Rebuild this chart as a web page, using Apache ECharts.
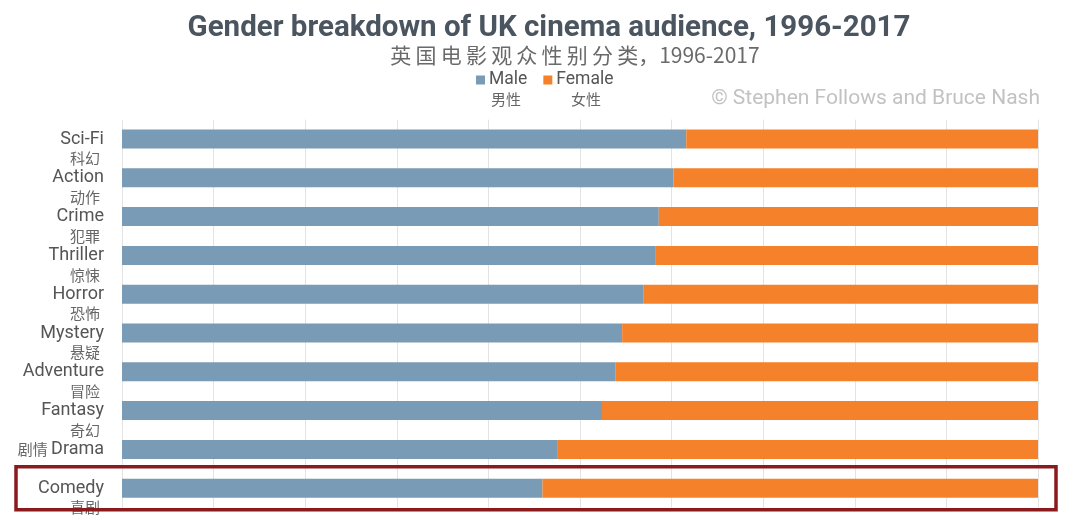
<!DOCTYPE html>
<html>
<head>
<meta charset="utf-8">
<script src="https://cdn.jsdelivr.net/npm/echarts@6/dist/echarts.min.js"></script>
<style>
  html, body { margin: 0; padding: 0; background: #ffffff; }
  #chart { width: 1080px; height: 517px; }
</style>
</head>
<body>
<div id="chart"></div>
<script>
// ---- Data ----
const categories = ['Sci-Fi', 'Action', 'Crime', 'Thriller', 'Horror', 'Mystery', 'Adventure', 'Fantasy', 'Drama', 'Comedy'];
const categoriesZh = ['科幻', '动作', '犯罪', '惊悚', '恐怖', '悬疑', '冒险', '奇幻', '剧情', '喜剧'];
const maleShare = [61.6, 60.2, 58.6, 58.2, 56.9, 54.6, 53.9, 52.4, 47.5, 45.9];
const femaleShare = [38.4, 39.8, 41.4, 41.8, 43.1, 45.4, 46.1, 47.6, 52.5, 54.1];
const seriesNames = ['Male', 'Female'];
const seriesNamesZh = ['男性', '女性'];
const titleText = 'Gender breakdown of UK cinema audience, 1996-2017';
const subtitleText = '英\u2009国\u2009电\u2009影\u2009观\u2009众\u2009性\u2009别\u2009分\u2009类，1996-2017';
const creditText = '© Stephen Follows and Bruce Nash';
const highlighted = 'Comedy';

const chart = echarts.init(document.getElementById('chart'), null, { renderer: 'canvas' });

const labelFont = 'Roboto, "Noto Sans", sans-serif';
const cjkFont = '"Noto Sans CJK SC", sans-serif';

const option = {
  backgroundColor: '#ffffff',
  animation: false,
  title: [
    {
      text: titleText,
      left: 544, top: 9, textAlign: 'center',
      textStyle: { fontFamily: labelFont, fontWeight: 'bold', fontSize: 29.5, color: '#4a5560' }
    },
    {
      text: subtitleText,
      left: 570, top: 40, textAlign: 'center',
      textStyle: { fontFamily: cjkFont, fontWeight: 'normal', fontSize: 21, color: '#6a6a6a' }
    }
  ],
  legend: {
    data: seriesNames,
    left: 471, top: 66,
    icon: 'rect', itemWidth: 9, itemHeight: 9, itemGap: 16,
    textStyle: { fontFamily: labelFont, fontSize: 17.5, color: '#555', padding: [0, 0, 0, -1] }
  },
  grid: { left: 122, right: 42, top: 119.6, bottom: 9.4, containLabel: false },
  xAxis: {
    type: 'value', min: 0, max: 100, interval: 10,
    axisLabel: { show: false }, axisLine: { show: false }, axisTick: { show: false },
    splitLine: { show: true, lineStyle: { color: '#e3e3e3', width: 1 } }
  },
  yAxis: {
    type: 'category', data: categories, inverse: true,
    axisLine: { show: false }, axisTick: { show: false },
    axisLabel: {
      margin: 18, interval: 0, hideOverlap: false,
      formatter: function (value) {
        const zh = categoriesZh[categories.indexOf(value)];
        if (value === 'Drama') {
          return '{bz|' + zh + ' }{a|' + value + '}';
        }
        return '{s| }\n{a|' + value + '}\n{b|' + zh + '}';
      },
      rich: {
        s: { fontSize: 14, lineHeight: 19 },
        a: { fontFamily: labelFont, fontSize: 18, color: '#555', lineHeight: 20 },
        b: { fontFamily: cjkFont, fontSize: 15, color: '#666', lineHeight: 19, padding: [0, 4, 0, 0] },
        bz: { fontFamily: cjkFont, fontSize: 15, color: '#666', lineHeight: 20 }
      }
    }
  },
  series: [
    {
      name: seriesNames[0], type: 'bar', stack: 'total', data: maleShare,
      barWidth: 19, itemStyle: { color: '#7a9bb6' }
    },
    {
      name: seriesNames[1], type: 'bar', stack: 'total', data: femaleShare,
      barWidth: 19, itemStyle: { color: '#f5822a' }
    }
  ]
};
chart.setOption(option);

// Decorations: Chinese legend names, credit line, highlight box
const cy = chart.convertToPixel({ yAxisIndex: 0 }, highlighted);
chart.setOption({
  graphic: [
    { type: 'text', left: 491, top: 92, style: { text: seriesNamesZh[0], font: '15px ' + cjkFont, fill: '#666' } },
    { type: 'text', left: 571, top: 92, style: { text: seriesNamesZh[1], font: '15px ' + cjkFont, fill: '#666' } },
    { type: 'text', right: 40, top: 88, style: { text: creditText, font: '21px ' + labelFont, fill: '#c2c2c2' } },
    {
      type: 'rect', z: 100,
      shape: { x: 16, y: cy - 21.5, width: 1040, height: 43 },
      style: { fill: 'none', stroke: '#8a1a1c', lineWidth: 3.5 }
    }
  ]
});
</script>
</body>
</html>
